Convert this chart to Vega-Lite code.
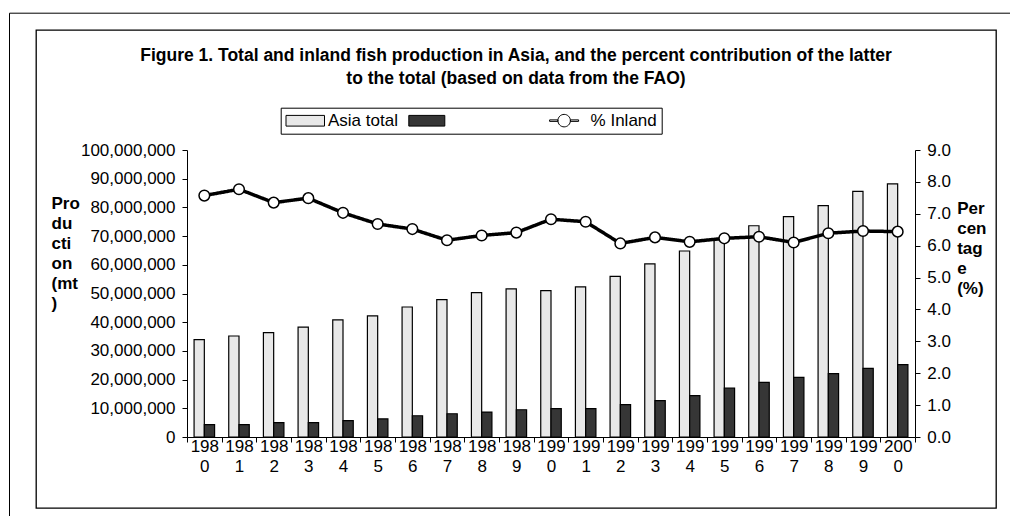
{
  "$schema": "https://vega.github.io/schema/vega-lite/v6.json",
  "width": 960,
  "height": 478,
  "autosize": "none",
  "padding": {"left": 36, "top": 30, "right": 14, "bottom": 8},
  "background": "white",
  "config": {
    "font": "Liberation Sans",
    "view": {"stroke": "black", "strokeWidth": 1.3, "fill": "white"},
    "axis": {
      "labelFont": "Liberation Sans",
      "labelFontSize": 17,
      "labelColor": "black",
      "titleFont": "Liberation Sans",
      "titleFontSize": 17,
      "titleFontWeight": "bold",
      "titleColor": "black",
      "domainColor": "black",
      "domainWidth": 1,
      "tickColor": "black",
      "tickWidth": 1,
      "tickSize": 5,
      "grid": false
    }
  },
  "title": {
    "text": ["Figure 1.  Total and inland fish production in Asia, and the percent contribution of the latter", "to the total (based on data from the FAO)"],
    "font": "Liberation Sans",
    "fontSize": 17.5,
    "fontWeight": "bold",
    "color": "black",
    "lineHeight": 23,
    "anchor": "middle",
    "frame": "group",
    "offset": -75.3
  },
  "datasets": {
    "bars": [
      {"year": "1980", "series": "Asia total", "value": 33900000},
      {"year": "1980", "series": "Inland", "value": 4300000},
      {"year": "1981", "series": "Asia total", "value": 35200000},
      {"year": "1981", "series": "Inland", "value": 4300000},
      {"year": "1982", "series": "Asia total", "value": 36400000},
      {"year": "1982", "series": "Inland", "value": 5000000},
      {"year": "1983", "series": "Asia total", "value": 38300000},
      {"year": "1983", "series": "Inland", "value": 5000000},
      {"year": "1984", "series": "Asia total", "value": 40800000},
      {"year": "1984", "series": "Inland", "value": 5700000},
      {"year": "1985", "series": "Asia total", "value": 42200000},
      {"year": "1985", "series": "Inland", "value": 6300000},
      {"year": "1986", "series": "Asia total", "value": 45300000},
      {"year": "1986", "series": "Inland", "value": 7400000},
      {"year": "1987", "series": "Asia total", "value": 47900000},
      {"year": "1987", "series": "Inland", "value": 8100000},
      {"year": "1988", "series": "Asia total", "value": 50300000},
      {"year": "1988", "series": "Inland", "value": 8700000},
      {"year": "1989", "series": "Asia total", "value": 51600000},
      {"year": "1989", "series": "Inland", "value": 9500000},
      {"year": "1990", "series": "Asia total", "value": 51000000},
      {"year": "1990", "series": "Inland", "value": 9900000},
      {"year": "1991", "series": "Asia total", "value": 52300000},
      {"year": "1991", "series": "Inland", "value": 9900000},
      {"year": "1992", "series": "Asia total", "value": 56000000},
      {"year": "1992", "series": "Inland", "value": 11300000},
      {"year": "1993", "series": "Asia total", "value": 60300000},
      {"year": "1993", "series": "Inland", "value": 12700000},
      {"year": "1994", "series": "Asia total", "value": 64800000},
      {"year": "1994", "series": "Inland", "value": 14400000},
      {"year": "1995", "series": "Asia total", "value": 68800000},
      {"year": "1995", "series": "Inland", "value": 17000000},
      {"year": "1996", "series": "Asia total", "value": 73600000},
      {"year": "1996", "series": "Inland", "value": 19000000},
      {"year": "1997", "series": "Asia total", "value": 76800000},
      {"year": "1997", "series": "Inland", "value": 20800000},
      {"year": "1998", "series": "Asia total", "value": 80600000},
      {"year": "1998", "series": "Inland", "value": 22100000},
      {"year": "1999", "series": "Asia total", "value": 85600000},
      {"year": "1999", "series": "Inland", "value": 23900000},
      {"year": "2000", "series": "Asia total", "value": 88200000},
      {"year": "2000", "series": "Inland", "value": 25200000}
    ],
    "pct": [
      {"year": "1980", "pct": 7.57},
      {"year": "1981", "pct": 7.77},
      {"year": "1982", "pct": 7.35},
      {"year": "1983", "pct": 7.49},
      {"year": "1984", "pct": 7.03},
      {"year": "1985", "pct": 6.68},
      {"year": "1986", "pct": 6.52},
      {"year": "1987", "pct": 6.17},
      {"year": "1988", "pct": 6.32},
      {"year": "1989", "pct": 6.41},
      {"year": "1990", "pct": 6.83},
      {"year": "1991", "pct": 6.75},
      {"year": "1992", "pct": 6.07},
      {"year": "1993", "pct": 6.26},
      {"year": "1994", "pct": 6.12},
      {"year": "1995", "pct": 6.23},
      {"year": "1996", "pct": 6.28},
      {"year": "1997", "pct": 6.10},
      {"year": "1998", "pct": 6.39},
      {"year": "1999", "pct": 6.46},
      {"year": "2000", "pct": 6.44}
    ]
  },
  "layer": [
    {
      "data": {"name": "bars"},
      "mark": {"type": "bar", "stroke": "black", "strokeWidth": 1.2},
      "encoding": {
        "x": {
          "field": "year",
          "type": "ordinal",
          "scale": {"range": [151, 879], "paddingInner": 0, "paddingOuter": 0},
          "axis": {
            "orient": "bottom",
            "offset": -71,
            "title": null,
            "tickBand": "extent",
            "labelAngle": 0,
            "labelOverlap": false,
            "labelPadding": -4,
            "labelLineHeight": 20,
            "labelExpr": "[slice(datum.label, 0, 3), slice(datum.label, 3)]",
            "encode": {"ticks": {"update": {"y": {"value": -5}}}}
          }
        },
        "xOffset": {
          "field": "series",
          "scale": {"domain": ["Asia total", "Inland"], "paddingInner": 0, "paddingOuter": 0.69}
        },
        "y": {
          "field": "value",
          "type": "quantitative",
          "scale": {"domain": [0, 100000000], "range": [407, 120], "nice": false, "zero": true},
          "axis": {
            "orient": "left",
            "offset": -151,
            "values": [0, 10000000, 20000000, 30000000, 40000000, 50000000, 60000000, 70000000, 80000000, 90000000, 100000000],
            "format": ",d",
            "labelPadding": 7,
            "title": ["Pro", "du", "cti", "on", "(mt", ")"],
            "titleAngle": 0,
            "titleAlign": "left",
            "titleBaseline": "middle",
            "titleLineHeight": 20,
            "titleX": -136,
            "titleY": 173,
            "encode": {"ticks": {"update": {"x": {"value": 5}}}}
          }
        },
        "fill": {
          "field": "series",
          "type": "nominal",
          "scale": {"domain": ["Asia total", "Inland", "% Inland"], "range": ["#e8e8e8", "#363636", "white"]},
          "legend": {
            "orient": "none",
            "legendX": 244.7,
            "legendY": 77.7,
            "direction": "horizontal",
            "title": null,
            "strokeColor": "black",
            "fillColor": "white",
            "padding": 4.3,
            "columnPadding": 8.8,
            "labelOffset": 26,
            "symbolSize": 100,
            "symbolStrokeWidth": 1,
            "symbolStrokeColor": "black",
            "labelFont": "Liberation Sans",
            "labelFontSize": 17,
            "labelColor": "black",
            "labelExpr": "datum.value == 'Inland' ? '' : datum.label",
            "encode": {
              "symbols": {
                "update": {
                  "shape": {"signal": "datum.value == '% Inland' ? 'M-1.3,-0.15H0.36V0.15H-1.3Z M2.86,-0.15H4.5V0.15H2.86Z M2.86,0A1.25,1.25 0 1,1 0.36,0A1.25,1.25 0 1,1 2.86,0Z' : datum.value == 'Inland' ? 'M-1.5,-1.07H5.7V1.07H-1.5Z M24.1,0' : 'M-1.5,-1.07H6.2V1.07H-1.5Z'"},
                  "stroke": {"value": "black"},
                  "strokeWidth": {"value": 1},
                  "opacity": {"value": 1}
                }
              }
            }
          }
        }
      }
    },
    {
      "data": {"name": "pct"},
      "encoding": {
        "x": {"field": "year", "type": "ordinal", "axis": null},
        "y": {
          "field": "pct",
          "type": "quantitative",
          "scale": {"domain": [0, 9], "range": [407, 120], "nice": false},
          "axis": {
            "orient": "right",
            "offset": -81,
            "values": [0, 1, 2, 3, 4, 5, 6, 7, 8, 9],
            "format": ".1f",
            "labelPadding": 6.7,
            "title": ["Per", "cen", "tag", "e", "(%)"],
            "titleAngle": 0,
            "titleAlign": "left",
            "titleBaseline": "middle",
            "titleLineHeight": 20,
            "titleX": 41.7,
            "titleY": 178.3,
            "encode": {"ticks": {"update": {"x": {"value": -5}}}}
          }
        }
      },
      "layer": [
        {
          "mark": {"type": "line", "stroke": "black", "strokeWidth": 3.5},
          "encoding": {
            "strokeDash": {
              "datum": "frame",
              "type": "nominal",
              "scale": {"domain": ["frame"], "range": [[1, 0]]},
              "legend": {
                "orient": "none",
                "legendX": -27,
                "legendY": -17.3,
                "padding": 560,
                "title": null,
                "strokeColor": "black",
                "symbolOpacity": 0,
                "labelOpacity": 0,
                "labelExpr": "''"
              }
            }
          }
        },
        {"mark": {"type": "point", "shape": "circle", "filled": true, "fill": "white", "stroke": "black", "strokeWidth": 1.5, "size": 113, "opacity": 1}}
      ]
    }
  ],
  "resolve": {"scale": {"y": "independent"}, "axis": {"x": "independent"}}
}
